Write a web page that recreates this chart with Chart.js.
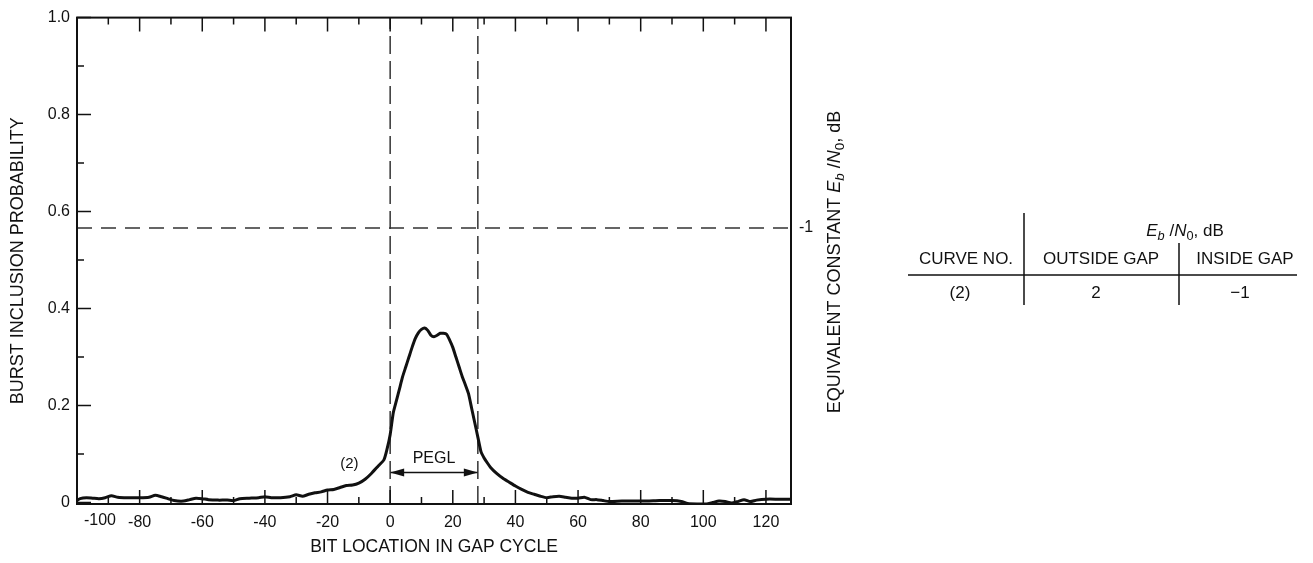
<!DOCTYPE html>
<html>
<head>
<meta charset="utf-8">
<script src="https://cdn.jsdelivr.net/npm/chart.js@4.4.0/dist/chart.umd.min.js"></script>
<style>
  html, body { margin: 0; padding: 0; background: #fff; }
  #wrap { width: 1313px; height: 563px; }
</style>
</head>
<body>
<div id="wrap"><canvas id="chartBurst"></canvas></div>
<script>
// Curve (2): burst inclusion probability vs bit location
const bitLocation = [-100, -99, -97, -95, -93, -91, -89, -87, -84, -80, -77, -75, -73, -71, -69, -66, -64, -62, -60, -58,
  -55, -52, -50, -48, -45, -42, -40, -38, -35, -32, -30, -28, -26, -24, -22, -20, -18, -16, -14, -12,
  -10, -8, -6, -4, -2, -1, 0, 1, 2, 3, 4, 5, 6, 7, 8, 9, 10, 11, 12, 13,
  14, 15, 16, 17, 18, 19, 20, 21, 22, 23, 24, 25, 26, 27, 28, 29, 30, 31, 32, 34,
  36, 38, 40, 42, 44, 46, 48, 50, 52, 54, 56, 58, 60, 62, 64, 66, 68, 70, 74, 78,
  82, 86, 90, 93, 95, 98, 101, 103, 105, 107, 109, 111, 113, 115, 117, 120, 124, 128];
const inclusionProb = [0.004, 0.008, 0.010, 0.009, 0.008, 0.010, 0.014, 0.011, 0.010, 0.010, 0.011, 0.015, 0.012, 0.008, 0.004, 0.003, 0.006, 0.009, 0.008, 0.006,
  0.005, 0.005, 0.004, 0.008, 0.009, 0.010, 0.012, 0.010, 0.010, 0.012, 0.016, 0.013, 0.017, 0.020, 0.022, 0.026, 0.027, 0.031, 0.035, 0.036,
  0.040, 0.048, 0.060, 0.074, 0.088, 0.110, 0.140, 0.185, 0.210, 0.235, 0.260, 0.280, 0.300, 0.320, 0.338, 0.350, 0.357, 0.360, 0.355, 0.345,
  0.342, 0.345, 0.349, 0.349, 0.347, 0.335, 0.320, 0.300, 0.280, 0.260, 0.243, 0.225, 0.195, 0.165, 0.135, 0.105, 0.092, 0.082, 0.073, 0.060,
  0.050, 0.042, 0.034, 0.027, 0.021, 0.017, 0.013, 0.010, 0.012, 0.013, 0.011, 0.009, 0.009, 0.011, 0.006, 0.006, 0.004, 0.002, 0.003, 0.003,
  0.003, 0.004, 0.004, 0.002, -0.002, -0.003, -0.003, 0.000, 0.003, 0.002, -0.001, 0.002, 0.006, 0.002, 0.005, 0.007, 0.007, 0.007];

const xTickValues = [-100, -80, -60, -40, -20, 0, 20, 40, 60, 80, 100, 120];
const xMinorTicks = [-90, -70, -50, -30, -10, 10, 30, 50, 70, 90, 110];
const yTickValues = [0, 0.2, 0.4, 0.6, 0.8, 1.0];
const yTickLabels = ['0', '0.2', '0.4', '0.6', '0.8', '1.0'];
const yMinorTicks = [0.1, 0.3, 0.5, 0.7, 0.9];
const ebnoTickValues = [0.566];
const ebnoTickLabels = ['-1'];

const gapEdges = [0, 28];      // PEGL limits
const ebnoLevel = 0.566;       // inside-gap Eb/N0 = -1 dB level
const peglArrowY = 0.062;

const tableHead = ['CURVE NO.', 'OUTSIDE GAP', 'INSIDE GAP'];
const tableRow = ['(2)', '2', '\u22121'];

const FONT = "'Liberation Sans', Arial, sans-serif";
const X_MIN = -100, X_MAX = 128, Y_MIN = -0.003, Y_MAX = 1.0;

function drawRich(ctx, pieces, size, x, y) {
  // pieces drawn left to right, returns total width when x is null
  let w = 0;
  pieces.forEach(p => {
    const s = p.sub ? size * 0.75 : size;
    ctx.font = (p.italic ? 'italic ' : '') + s + 'px ' + FONT;
    if (x !== null) ctx.fillText(p.t, x + w, y + (p.sub ? size * 0.3 : 0));
    w += ctx.measureText(p.t).width;
  });
  return w;
}

const ebnoPieces = [
  { t: 'E', italic: true }, { t: 'b', italic: true, sub: true }, { t: ' /' },
  { t: 'N', italic: true }, { t: '0', sub: true }, { t: ', dB' }
];

const overlay = {
  id: 'overlay',
  afterDatasetsDraw(chart) {
    const { ctx, chartArea: a, scales: { x, y } } = chart;
    ctx.save();
    ctx.strokeStyle = '#111';
    ctx.fillStyle = '#111';

    // frame
    ctx.lineWidth = 2;
    ctx.strokeRect(a.left, a.top, a.right - a.left, a.bottom - a.top);

    // inward ticks
    ctx.lineWidth = 1.5;
    ctx.beginPath();
    xTickValues.concat(xMinorTicks).forEach(v => {
      const len = xTickValues.includes(v) ? 14 : 7;
      const px = x.getPixelForValue(v);
      ctx.moveTo(px, a.bottom); ctx.lineTo(px, a.bottom - len);
      ctx.moveTo(px, a.top); ctx.lineTo(px, a.top + len);
    });
    yTickValues.concat(yMinorTicks).forEach(v => {
      const len = yTickValues.includes(v) ? 14 : 7;
      const py = y.getPixelForValue(v);
      ctx.moveTo(a.left, py); ctx.lineTo(a.left + len, py);
    });
    ctx.stroke();

    // first x label sits inside the corner
    ctx.font = '16px ' + FONT;
    ctx.textAlign = 'center';
    ctx.textBaseline = 'middle';
    ctx.fillText(String(xTickValues[0]), x.getPixelForValue(xTickValues[0]) + 23, a.bottom + 17);

    // PEGL arrowheads
    const ay = y.getPixelForValue(peglArrowY);
    const x0 = x.getPixelForValue(gapEdges[0]);
    const x1 = x.getPixelForValue(gapEdges[1]);
    ctx.beginPath();
    ctx.moveTo(x0, ay); ctx.lineTo(x0 + 14, ay - 4); ctx.lineTo(x0 + 14, ay + 4); ctx.closePath();
    ctx.moveTo(x1, ay); ctx.lineTo(x1 - 14, ay - 4); ctx.lineTo(x1 - 14, ay + 4); ctx.closePath();
    ctx.fill();

    // annotations
    ctx.font = '16px ' + FONT;
    ctx.fillText('PEGL', x.getPixelForValue((gapEdges[0] + gapEdges[1]) / 2), y.getPixelForValue(0.091));
    ctx.font = '15px ' + FONT;
    ctx.fillText('(2)', x.getPixelForValue(-13), y.getPixelForValue(0.080));

    // right axis title, reads bottom to top
    ctx.save();
    ctx.translate(835, 262);
    ctx.rotate(-Math.PI / 2);
    ctx.textAlign = 'left';
    const lead = [{ t: 'EQUIVALENT CONSTANT ' }].concat(ebnoPieces);
    const tw = drawRich(ctx, lead, 18, null, 0);
    drawRich(ctx, lead, 18, -tw / 2, 0);
    ctx.restore();

    // parameter table
    ctx.lineWidth = 1.5;
    ctx.beginPath();
    ctx.moveTo(1024, 213); ctx.lineTo(1024, 305);
    ctx.moveTo(1179, 243); ctx.lineTo(1179, 305);
    ctx.moveTo(908, 275); ctx.lineTo(1297, 275);
    ctx.stroke();
    ctx.textAlign = 'left';
    const hw = drawRich(ctx, ebnoPieces, 17, null, 0);
    drawRich(ctx, ebnoPieces, 17, 1185 - hw / 2, 231);
    ctx.textAlign = 'center';
    ctx.font = '17px ' + FONT;
    const colX = [966, 1101, 1245];
    tableHead.forEach((t, i) => ctx.fillText(t, colX[i], 259));
    const rowX = [960, 1096, 1240];
    tableRow.forEach((t, i) => ctx.fillText(t, rowX[i], 293));

    ctx.restore();
  }
};

const ctxBurst = document.getElementById('chartBurst').getContext('2d');
new Chart(ctxBurst, {
  type: 'line',
  data: {
    datasets: [
      {
        label: '(2)',
        data: bitLocation.map((b, i) => ({ x: b, y: inclusionProb[i] })),
        borderColor: '#111',
        borderWidth: 3,
        pointRadius: 0,
        tension: 0.2
      },
      ...gapEdges.map(g => ({
        data: [{ x: g, y: Y_MIN }, { x: g, y: Y_MAX }],
        borderColor: '#333',
        borderWidth: 1.5,
        borderDash: [18, 7],
        pointRadius: 0
      })),
      {
        data: [{ x: X_MIN, y: ebnoLevel }, { x: X_MAX, y: ebnoLevel }],
        borderColor: '#333',
        borderWidth: 1.5,
        borderDash: [15, 9],
        pointRadius: 0
      },
      {
        data: [{ x: gapEdges[0], y: peglArrowY }, { x: gapEdges[1], y: peglArrowY }],
        borderColor: '#111',
        borderWidth: 1.5,
        pointRadius: 0
      }
    ]
  },
  options: {
    responsive: true,
    maintainAspectRatio: false,
    animation: false,
    layout: { padding: { left: 0, right: 462, top: 13, bottom: 3 } },
    plugins: {
      legend: { display: false },
      tooltip: { enabled: false }
    },
    scales: {
      x: {
        type: 'linear',
        min: X_MIN,
        max: X_MAX,
        afterBuildTicks: s => { s.ticks = xTickValues.map(v => ({ value: v })); },
        afterFit: s => { s.height = 56; },
        grid: { display: false, drawTicks: false },
        border: { display: false },
        ticks: {
          autoSkip: false,
          maxRotation: 0,
          padding: 9,
          color: '#111',
          font: { family: FONT, size: 16 },
          callback: v => (v === xTickValues[0] ? '' : String(v))
        },
        title: {
          display: true,
          text: 'BIT LOCATION IN GAP CYCLE',
          color: '#111',
          font: { family: FONT, size: 17.5 },
          padding: { top: 0, bottom: 2 }
        }
      },
      y: {
        min: Y_MIN,
        max: Y_MAX,
        afterBuildTicks: s => { s.ticks = yTickValues.map(v => ({ value: v })); },
        afterFit: s => { s.width = 77; },
        grid: { display: false, drawTicks: false },
        border: { display: false },
        ticks: {
          padding: 7,
          color: '#111',
          font: { family: FONT, size: 16 },
          callback: v => yTickLabels[yTickValues.indexOf(v)]
        },
        title: {
          display: true,
          text: 'BURST INCLUSION PROBABILITY',
          color: '#111',
          font: { family: FONT, size: 18 },
          padding: { top: 7, bottom: 0 }
        }
      },
      y2: {
        position: 'right',
        min: Y_MIN,
        max: Y_MAX,
        afterBuildTicks: s => { s.ticks = ebnoTickValues.map(v => ({ value: v })); },
        afterFit: s => { s.width = 60; },
        grid: { display: false, drawTicks: false },
        border: { display: false },
        ticks: {
          padding: 8,
          color: '#111',
          font: { family: FONT, size: 16 },
          callback: v => ebnoTickLabels[ebnoTickValues.indexOf(v)]
        }
      }
    }
  },
  plugins: [overlay]
});
</script>
</body>
</html>
